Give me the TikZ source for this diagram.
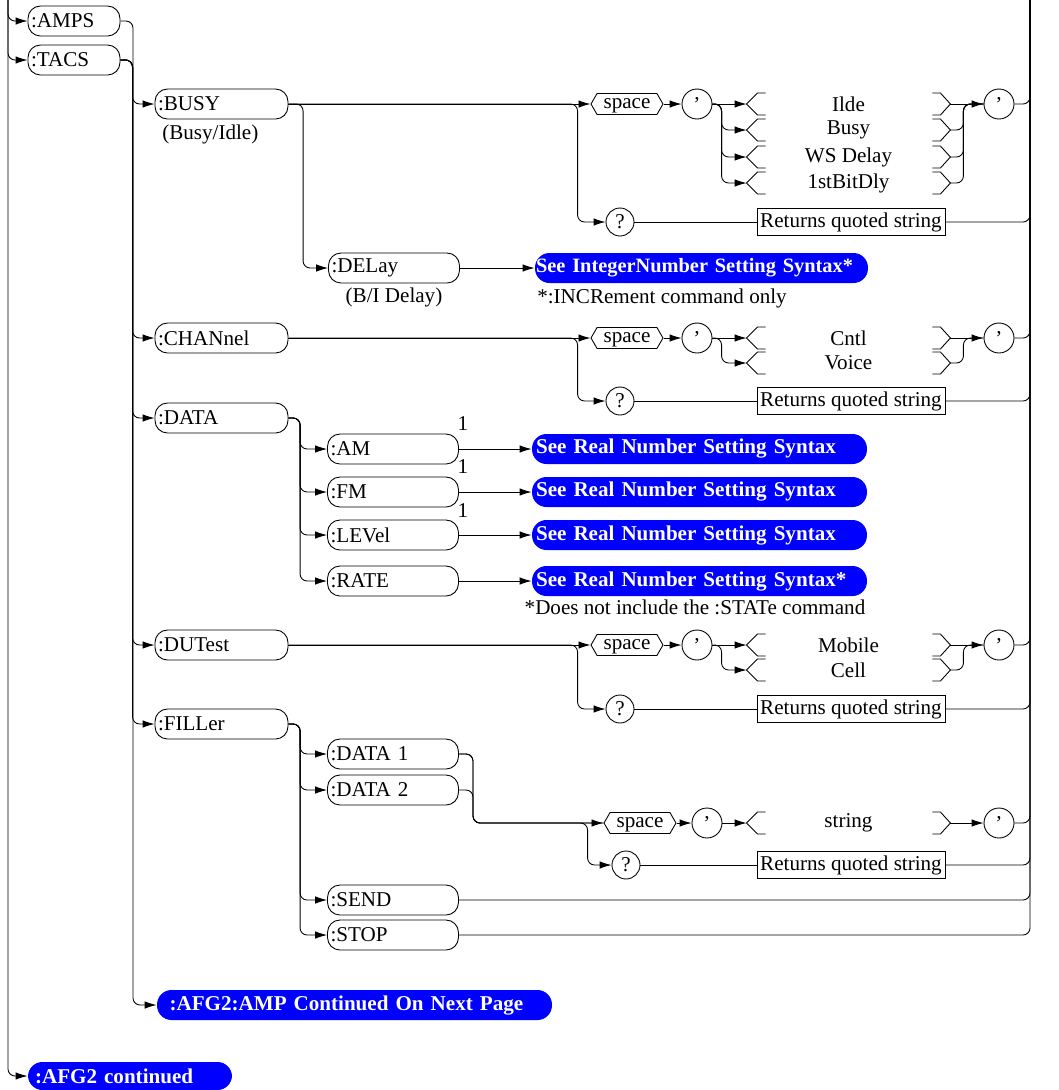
\documentclass[tikz,border=0pt]{standalone}
\usepackage{fontspec}
\setmainfont{Liberation Serif}
\usepackage{tikz}
\usetikzlibrary{positioning,arrows.meta,calc,shapes.symbols}

\newcommand{\optbrackets}[1]{%
  \draw (#1.west) ++(19,-11) -- ++(-8,0) -- (#1.west) -- ++(11,11) -- ++(8,0);
  \draw (#1.east) ++(-18,-11) -- ++(8,0) -- (#1.east) -- ++(-10,11) -- ++(-8,0);}

\begin{document}
\begin{tikzpicture}[x=0.02cm,y=-0.02cm,
  font=\fontsize{12}{14}\selectfont,
  line width=0.5pt,
  rr/.style={rounded corners=0.14cm},
  arr/.style={rr,-{Latex[length=0.24cm,width=0.15cm]}},
  box/.style={draw,rounded corners=0.25cm,minimum height=0.6cm,inner xsep=0.06cm,inner ysep=0pt,text width=2.5cm,align=left},
  topbox/.style={box,text width=1.72cm},
  cmdbox/.style={box,text width=2.54cm},
  pill/.style={fill=blue,text=white,font=\fontsize{12}{14}\selectfont\bfseries,rounded corners=0.29cm,minimum height=0.6cm,inner xsep=0.08cm,inner ysep=0pt,align=left},
  rbox/.style={draw,minimum width=3.76cm,minimum height=0.54cm,inner sep=1pt},
  qc/.style={draw,circle,minimum size=0.56cm,inner sep=0pt},
  tick/.style={draw,circle,minimum size=0.6cm,inner sep=0pt},
  hexa/.style={draw,signal,signal to=west and east,signal pointer angle=120,minimum width=1.44cm,minimum height=0.42cm,inner sep=1pt,text height=1.2ex,text depth=0.1ex},
  opt/.style={minimum width=4.06cm,minimum height=0.44cm,inner sep=0pt}
]
\useasboundingbox (0,0) rectangle (1059,1090);

\coordinate (ltop) at (8,0);
\coordinate (rtop) at (1030,0);
\coordinate (tt) at (133,1005);

\node[topbox] (amps) at (74,21) {:AMPS};
\node[topbox] (tacs) at (74,60) {:TACS};

\node[cmdbox] (busy) at (221.5,104) {:BUSY};
\node[anchor=west] (busyn) at (156,134) {(Busy/Idle)};
\node[box] (delay) at (394,268) {:DELay};
\node (delayn) at (394,297) {(B/I Delay)};
\node[pill,text width=6.62cm,inner xsep=0.02cm,font=\fontsize{11.6}{14}\selectfont\bfseries] (pint) at (701.5,268) {See IntegerNumber Setting Syntax*};
\node[anchor=west] (intn) at (531,298) {*:INCRement command only};

\node[hexa] (sp1) at (627,104) {space};
\node[tick] (qa1) at (697,104) {'};
\node[opt] (idle) at (848.5,104) {Ilde};
\node[opt] (bsy) at (848.5,130) {Busy};
\node[opt] (wsd) at (848.5,157) {WS Delay};
\node[opt] (bitd) at (848.5,183) {1stBitDly};
\node[tick] (qb1) at (999,104) {'};
\node[qc] (q1) at (620,222) {?};
\node[rbox] (ret1) at (851,222) {Returns quoted string};

\node[cmdbox] (chan) at (221.5,338) {:CHANnel};
\node[hexa] (sp2) at (627,338) {space};
\node[tick] (qa2) at (697,338) {'};
\node[opt] (cntl) at (848.5,338) {Cntl};
\node[opt] (voice) at (848.5,363) {Voice};
\node[tick] (qb2) at (999,338) {'};
\node[qc] (q2) at (620,401) {?};
\node[rbox] (ret2) at (851,401) {Returns quoted string};

\node[cmdbox] (data) at (221.5,418) {:DATA};
\node[box] (am) at (393,449) {:AM};
\node[box] (fm) at (393,492) {:FM};
\node[box] (lev) at (393,535) {:LEVel};
\node[box] (rate) at (393,581) {:RATE};
\node (n1) at (463,424) {1};
\node (n2) at (463,467) {1};
\node (n3) at (463,511) {1};
\node[pill,text width=6.54cm] (pr1) at (699.5,449) {See Real Number Setting Syntax};
\node[pill,text width=6.54cm] (pr2) at (699.5,492) {See Real Number Setting Syntax};
\node[pill,text width=6.54cm] (pr3) at (699.5,535) {See Real Number Setting Syntax};
\node[pill,text width=6.54cm] (pr4) at (699.5,581) {See Real Number Setting Syntax*};
\node (staten) at (695,607) {*Does not include the :STATe command};

\node[cmdbox] (dut) at (221.5,645) {:DUTest};
\node[hexa] (sp3) at (627,645) {space};
\node[tick] (qa3) at (697,645) {'};
\node[opt] (mobile) at (848.5,645) {Mobile};
\node[opt] (cell) at (848.5,670) {Cell};
\node[tick] (qb3) at (999,645) {'};
\node[qc] (q3) at (620,709) {?};
\node[rbox] (ret3) at (851,709) {Returns quoted string};

\node[cmdbox] (fill) at (221.5,724) {:FILLer};
\node[box] (dd1) at (393,754) {:DATA 1};
\node[box] (dd2) at (393,790) {:DATA 2};
\node[box] (send) at (393,900) {:SEND};
\node[box] (stop) at (393,935) {:STOP};
\coordinate (fj) at (473,823);
\node[hexa] (sp4) at (640,823) {space};
\node[tick] (qa4) at (707,823) {'};
\node[opt] (strg) at (848.5,823) {string};
\node[tick] (qb4) at (999,823) {'};
\node[qc] (q4) at (626,865) {?};
\node[rbox] (ret4) at (851,865) {Returns quoted string};

\node[pill,text width=7.4cm,inner xsep=0.25cm] (afgamp) at (354.5,1005) {:AFG2:AMP Continued On Next Page};
\node[pill,text width=3.8cm,inner xsep=0.14cm,minimum height=0.56cm] (afgc) at (130,1076) {:AFG2 continued};

\optbrackets{idle}
\optbrackets{bsy}
\optbrackets{wsd}
\optbrackets{bitd}
\optbrackets{cntl}
\optbrackets{voice}
\optbrackets{mobile}
\optbrackets{cell}
\optbrackets{strg}

\draw[arr] (ltop) |- (amps.west);
\draw[arr] (ltop) |- (tacs.west);
\draw[arr] (ltop) |- (afgc.west);

\draw[arr] (amps.east) -| (tt) -- (afgamp.west);
\draw[arr] (tacs.east) -| ($(busy.west)+(-22,0)$) -- (busy.west);
\draw[arr] (tacs.east) -| ($(chan.west)+(-22,0)$) -- (chan.west);
\draw[arr] (tacs.east) -| ($(data.west)+(-22,0)$) -- (data.west);
\draw[arr] (tacs.east) -| ($(dut.west)+(-22,0)$) -- (dut.west);
\draw[arr] (tacs.east) -| ($(fill.west)+(-22,0)$) -- (fill.west);

\draw[arr] (busy.east) -- (sp1.west);
\draw[arr] (busy.east) -| ($(q1.west)+(-28,0)$) -- (q1.west);
\draw[arr] (busy.east) -| ($(delay.west)+(-25,0)$) -- (delay.west);
\draw[arr] (delay.east) -- (pint.west);
\draw[arr] (sp1.east) -- (qa1.west);
\draw[arr] (qa1.east) -- (idle.west);
\draw[arr] (qa1.east) -| ($(bsy.west)+(-25,0)$) -- (bsy.west);
\draw[arr] (qa1.east) -| ($(wsd.west)+(-25,0)$) -- (wsd.west);
\draw[arr] (qa1.east) -| ($(bitd.west)+(-25,0)$) -- (bitd.west);
\draw[arr] (idle.east) -- (qb1.west);
\draw[rr] (bsy.east) -| ($(idle.east)+(13,0)$) -- (qb1.west);
\draw[rr] (wsd.east) -| ($(idle.east)+(13,0)$) -- (qb1.west);
\draw[rr] (bitd.east) -| ($(idle.east)+(13,0)$) -- (qb1.west);
\draw[rr] (qb1.east) -| (rtop);
\draw (q1.east) -- (ret1.west);
\draw[rr] (ret1.east) -| (rtop);

\draw[arr] (chan.east) -- (sp2.west);
\draw[arr] (chan.east) -| ($(q2.west)+(-28,0)$) -- (q2.west);
\draw[arr] (sp2.east) -- (qa2.west);
\draw[arr] (qa2.east) -- (cntl.west);
\draw[arr] (qa2.east) -| ($(voice.west)+(-25,0)$) -- (voice.west);
\draw[arr] (cntl.east) -- (qb2.west);
\draw[rr] (voice.east) -| ($(cntl.east)+(13,0)$) -- (qb2.west);
\draw[rr] (qb2.east) -| (rtop);
\draw (q2.east) -- (ret2.west);
\draw[rr] (ret2.east) -| (rtop);

\draw[arr] (data.east) -| ($(am.west)+(-27,0)$) -- (am.west);
\draw[arr] (data.east) -| ($(fm.west)+(-27,0)$) -- (fm.west);
\draw[arr] (data.east) -| ($(lev.west)+(-27,0)$) -- (lev.west);
\draw[arr] (data.east) -| ($(rate.west)+(-27,0)$) -- (rate.west);
\draw[arr] (am.east) -- (pr1.west);
\draw[arr] (fm.east) -- (pr2.west);
\draw[arr] (lev.east) -- (pr3.west);
\draw[arr] (rate.east) -- (pr4.west);

\draw[arr] (dut.east) -- (sp3.west);
\draw[arr] (dut.east) -| ($(q3.west)+(-28,0)$) -- (q3.west);
\draw[arr] (sp3.east) -- (qa3.west);
\draw[arr] (qa3.east) -- (mobile.west);
\draw[arr] (qa3.east) -| ($(cell.west)+(-25,0)$) -- (cell.west);
\draw[arr] (mobile.east) -- (qb3.west);
\draw[rr] (cell.east) -| ($(mobile.east)+(13,0)$) -- (qb3.west);
\draw[rr] (qb3.east) -| (rtop);
\draw (q3.east) -- (ret3.west);
\draw[rr] (ret3.east) -| (rtop);

\draw[arr] (fill.east) -| ($(dd1.west)+(-27,0)$) -- (dd1.west);
\draw[arr] (fill.east) -| ($(dd2.west)+(-27,0)$) -- (dd2.west);
\draw[arr] (fill.east) -| ($(send.west)+(-27,0)$) -- (send.west);
\draw[arr] (fill.east) -| ($(stop.west)+(-27,0)$) -- (stop.west);
\draw[arr] (dd1.east) -| (fj) -- (sp4.west);
\draw[rr] (dd2.east) -| (fj) -- (sp4.west);
\draw[arr] (dd1.east) -| (fj) -| ($(q4.west)+(-24,0)$) -- (q4.west);
\draw[arr] (sp4.east) -- (qa4.west);
\draw[arr] (qa4.east) -- (strg.west);
\draw[arr] (strg.east) -- (qb4.west);
\draw[rr] (qb4.east) -| (rtop);
\draw (q4.east) -- (ret4.west);
\draw[rr] (ret4.east) -| (rtop);
\draw[rr] (send.east) -| (rtop);
\draw[rr] (stop.east) -| (rtop);

\end{tikzpicture}
\end{document}
